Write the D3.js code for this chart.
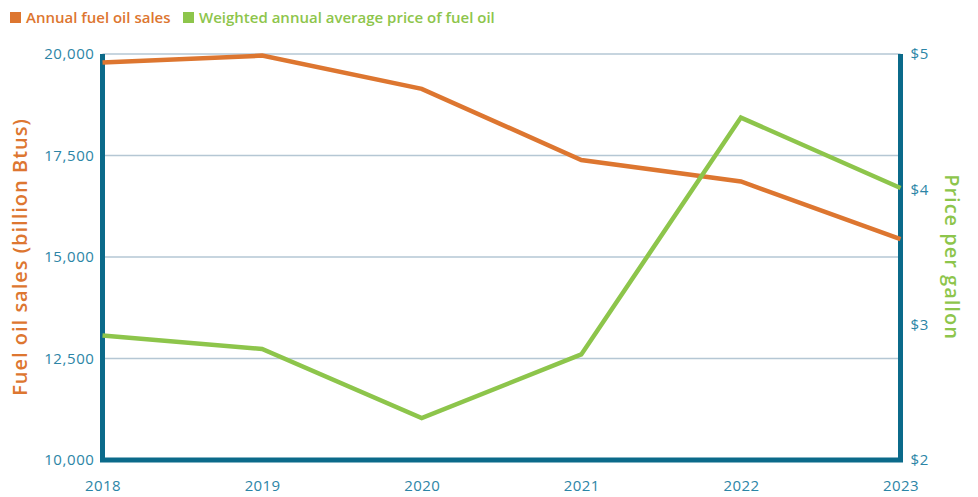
<!DOCTYPE html>
<html>
<head>
<meta charset="utf-8">
<script src="https://cdn.jsdelivr.net/npm/d3@7"></script>
<style>
  body { margin: 0; background: #fff; }
  text { font-family: "Open Sans", sans-serif; }
</style>
</head>
<body>
<svg width="978" height="497"></svg>
<script>
// data
const years = [2018, 2019, 2020, 2021, 2022, 2023];
const sales = [19790, 19960, 19140, 17390, 16860, 15440];
const price = [2.92, 2.82, 2.31, 2.78, 4.53, 4.01];
const salesTicks = [10000, 12500, 15000, 17500, 20000];
const priceTicks = [2, 3, 4, 5];

const orange = "#dd7630", green = "#8dc54b", axisCol = "#0b6a8a", tickCol = "#2c85a6", gridCol = "#b5c7d4";

const svg = d3.select("svg");
const plotL = 102.5, plotR = 900.5, plotT = 54, plotB = 460;

const x = d3.scaleLinear().domain([2018, 2023]).range([plotL, plotR]);
const ySales = d3.scaleLinear().domain([10000, 20000]).range([plotB, plotT]);
const yPrice = d3.scaleLinear().domain([2, 5]).range([plotB, plotT]);

// gridlines
svg.append("g")
    .selectAll("line")
    .data(salesTicks.slice(1))
    .enter().append("line")
    .attr("x1", plotL).attr("x2", plotR)
    .attr("y1", d => ySales(d)).attr("y2", d => ySales(d))
    .attr("stroke", gridCol)
    .attr("stroke-width", 1.5);

// left axis
const yLeft = svg.append("g")
    .attr("transform", `translate(${plotL},0)`)
    .call(d3.axisLeft(ySales).tickValues(salesTicks).tickFormat(d3.format(",")).tickSize(0).tickPadding(8));
yLeft.select(".domain").remove();
yLeft.selectAll("text").attr("fill", tickCol).attr("font-size", "15px").attr("letter-spacing", "0.6px");

// right axis
const yRight = svg.append("g")
    .attr("transform", `translate(${plotR},0)`)
    .call(d3.axisRight(yPrice).tickValues(priceTicks).tickFormat(d => "$" + d).tickSize(0).tickPadding(10));
yRight.select(".domain").remove();
yRight.selectAll("text").attr("fill", tickCol).attr("font-size", "15px").attr("letter-spacing", "0.6px");

// x axis
const xAxis = svg.append("g")
    .attr("transform", `translate(0,${plotB})`)
    .call(d3.axisBottom(x).tickValues(years).tickFormat(d3.format("d")).tickSize(0).tickPadding(20));
xAxis.select(".domain").remove();
xAxis.selectAll("text").attr("fill", tickCol).attr("font-size", "15px").attr("letter-spacing", "0.4px");

// thick axis frame (left, bottom, right)
svg.append("path")
    .attr("d", `M${plotL},${plotT}V${plotB}H${plotR}V${plotT}`)
    .attr("fill", "none")
    .attr("stroke", axisCol)
    .attr("stroke-width", 5);

// lines
const salesLine = d3.line().x((d, i) => x(years[i])).y(d => ySales(d));
const priceLine = d3.line().x((d, i) => x(years[i])).y(d => yPrice(d));

svg.append("path")
    .datum(sales)
    .attr("d", salesLine)
    .attr("fill", "none")
    .attr("stroke", orange)
    .attr("stroke-width", 4.5);

svg.append("path")
    .datum(price)
    .attr("d", priceLine)
    .attr("fill", "none")
    .attr("stroke", green)
    .attr("stroke-width", 4.5);

// axis titles
svg.append("text")
    .attr("transform", `translate(27,${(plotT + plotB) / 2}) rotate(-90)`)
    .attr("text-anchor", "middle")
    .attr("fill", orange)
    .attr("font-size", "20px")
    .attr("font-weight", 600)
    .attr("letter-spacing", "1px")
    .text("Fuel oil sales (billion Btus)");

svg.append("text")
    .attr("transform", `translate(945,${(plotT + plotB) / 2}) rotate(90)`)
    .attr("text-anchor", "middle")
    .attr("fill", green)
    .attr("font-size", "20px")
    .attr("font-weight", 600)
    .attr("letter-spacing", "1px")
    .text("Price per gallon");

// legend
const legend = [
    { label: "Annual fuel oil sales", color: orange, x: 10 },
    { label: "Weighted annual average price of fuel oil", color: green, x: 183 }
];
const lg = svg.append("g").selectAll("g").data(legend).enter().append("g")
    .attr("transform", d => `translate(${d.x},12)`);
lg.append("rect").attr("width", 11).attr("height", 11).attr("fill", d => d.color);
lg.append("text")
    .attr("x", 16).attr("y", 11)
    .attr("fill", d => d.color)
    .attr("font-size", "15px")
    .attr("font-weight", 600)
    .text(d => d.label);
</script>
</body>
</html>
